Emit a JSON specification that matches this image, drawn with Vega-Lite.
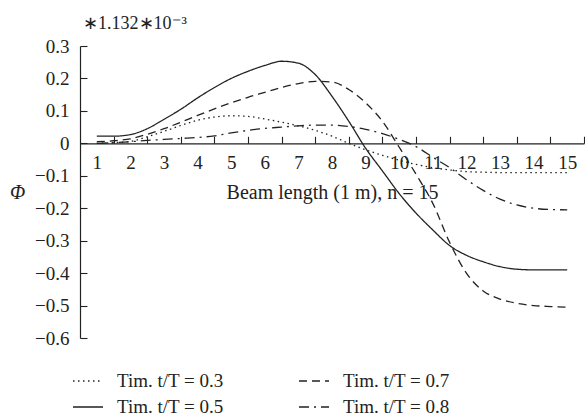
{
  "$schema": "https://vega.github.io/schema/vega-lite/v6.json",
  "width": 504,
  "height": 292,
  "autosize": {"type": "none"},
  "padding": {"left": 80, "top": 46, "right": 1, "bottom": 81},
  "background": "white",
  "config": {
    "view": {"stroke": null},
    "font": "Liberation Serif",
    "axis": {"labelFont": "Liberation Serif", "titleFont": "Liberation Serif", "labelColor": "#222", "titleColor": "#222", "domainColor": "#222", "tickColor": "#222", "domainWidth": 1.2, "tickWidth": 1.1, "grid": false, "labelFontSize": 19, "titleFontSize": 20, "titleFontWeight": "normal"},
    "legend": {"labelFont": "Liberation Serif", "labelFontSize": 19, "labelColor": "#222"}
  },
  "title": {"text": "∗1.132∗10⁻³", "anchor": "start", "frame": "group", "font": "Liberation Serif", "fontSize": 18, "fontWeight": "normal", "color": "#222", "offset": 4, "dx": 3},
  "data": {"values": [
    {"x":1,"phi":0.022,"s":"Tim. t/T = 0.5"},{"x":1.5,"phi":0.022,"s":"Tim. t/T = 0.5"},{"x":2,"phi":0.027,"s":"Tim. t/T = 0.5"},{"x":2.5,"phi":0.045,"s":"Tim. t/T = 0.5"},{"x":3,"phi":0.074,"s":"Tim. t/T = 0.5"},{"x":3.5,"phi":0.105,"s":"Tim. t/T = 0.5"},{"x":4,"phi":0.14,"s":"Tim. t/T = 0.5"},{"x":4.5,"phi":0.172,"s":"Tim. t/T = 0.5"},{"x":5,"phi":0.2,"s":"Tim. t/T = 0.5"},{"x":5.5,"phi":0.222,"s":"Tim. t/T = 0.5"},{"x":6,"phi":0.24,"s":"Tim. t/T = 0.5"},{"x":6.5,"phi":0.253,"s":"Tim. t/T = 0.5"},{"x":7,"phi":0.247,"s":"Tim. t/T = 0.5"},{"x":7.5,"phi":0.212,"s":"Tim. t/T = 0.5"},{"x":8,"phi":0.145,"s":"Tim. t/T = 0.5"},{"x":8.5,"phi":0.068,"s":"Tim. t/T = 0.5"},{"x":9,"phi":-0.015,"s":"Tim. t/T = 0.5"},{"x":9.5,"phi":-0.085,"s":"Tim. t/T = 0.5"},{"x":10,"phi":-0.155,"s":"Tim. t/T = 0.5"},{"x":10.5,"phi":-0.215,"s":"Tim. t/T = 0.5"},{"x":11,"phi":-0.267,"s":"Tim. t/T = 0.5"},{"x":11.5,"phi":-0.315,"s":"Tim. t/T = 0.5"},{"x":12,"phi":-0.345,"s":"Tim. t/T = 0.5"},{"x":12.5,"phi":-0.365,"s":"Tim. t/T = 0.5"},{"x":13,"phi":-0.38,"s":"Tim. t/T = 0.5"},{"x":13.5,"phi":-0.388,"s":"Tim. t/T = 0.5"},{"x":14,"phi":-0.39,"s":"Tim. t/T = 0.5"},{"x":14.5,"phi":-0.39,"s":"Tim. t/T = 0.5"},{"x":15,"phi":-0.39,"s":"Tim. t/T = 0.5"},
    {"x":1,"phi":0.005,"s":"Tim. t/T = 0.7"},{"x":1.5,"phi":0.008,"s":"Tim. t/T = 0.7"},{"x":2,"phi":0.014,"s":"Tim. t/T = 0.7"},{"x":2.5,"phi":0.028,"s":"Tim. t/T = 0.7"},{"x":3,"phi":0.045,"s":"Tim. t/T = 0.7"},{"x":3.5,"phi":0.065,"s":"Tim. t/T = 0.7"},{"x":4,"phi":0.086,"s":"Tim. t/T = 0.7"},{"x":4.5,"phi":0.106,"s":"Tim. t/T = 0.7"},{"x":5,"phi":0.125,"s":"Tim. t/T = 0.7"},{"x":5.5,"phi":0.142,"s":"Tim. t/T = 0.7"},{"x":6,"phi":0.157,"s":"Tim. t/T = 0.7"},{"x":6.5,"phi":0.172,"s":"Tim. t/T = 0.7"},{"x":7,"phi":0.184,"s":"Tim. t/T = 0.7"},{"x":7.5,"phi":0.191,"s":"Tim. t/T = 0.7"},{"x":8,"phi":0.189,"s":"Tim. t/T = 0.7"},{"x":8.5,"phi":0.166,"s":"Tim. t/T = 0.7"},{"x":9,"phi":0.125,"s":"Tim. t/T = 0.7"},{"x":9.5,"phi":0.068,"s":"Tim. t/T = 0.7"},{"x":10,"phi":-0.012,"s":"Tim. t/T = 0.7"},{"x":10.5,"phi":-0.095,"s":"Tim. t/T = 0.7"},{"x":11,"phi":-0.185,"s":"Tim. t/T = 0.7"},{"x":11.5,"phi":-0.305,"s":"Tim. t/T = 0.7"},{"x":12,"phi":-0.4,"s":"Tim. t/T = 0.7"},{"x":12.5,"phi":-0.455,"s":"Tim. t/T = 0.7"},{"x":13,"phi":-0.48,"s":"Tim. t/T = 0.7"},{"x":13.5,"phi":-0.493,"s":"Tim. t/T = 0.7"},{"x":14,"phi":-0.5,"s":"Tim. t/T = 0.7"},{"x":14.5,"phi":-0.503,"s":"Tim. t/T = 0.7"},{"x":15,"phi":-0.505,"s":"Tim. t/T = 0.7"},
    {"x":1,"phi":0.0,"s":"Tim. t/T = 0.3"},{"x":1.5,"phi":0.002,"s":"Tim. t/T = 0.3"},{"x":2,"phi":0.006,"s":"Tim. t/T = 0.3"},{"x":2.5,"phi":0.02,"s":"Tim. t/T = 0.3"},{"x":3,"phi":0.037,"s":"Tim. t/T = 0.3"},{"x":3.5,"phi":0.055,"s":"Tim. t/T = 0.3"},{"x":4,"phi":0.071,"s":"Tim. t/T = 0.3"},{"x":4.5,"phi":0.081,"s":"Tim. t/T = 0.3"},{"x":5,"phi":0.085,"s":"Tim. t/T = 0.3"},{"x":5.5,"phi":0.083,"s":"Tim. t/T = 0.3"},{"x":6,"phi":0.075,"s":"Tim. t/T = 0.3"},{"x":6.5,"phi":0.065,"s":"Tim. t/T = 0.3"},{"x":7,"phi":0.054,"s":"Tim. t/T = 0.3"},{"x":7.5,"phi":0.04,"s":"Tim. t/T = 0.3"},{"x":8,"phi":0.022,"s":"Tim. t/T = 0.3"},{"x":8.5,"phi":0.0,"s":"Tim. t/T = 0.3"},{"x":9,"phi":-0.02,"s":"Tim. t/T = 0.3"},{"x":9.5,"phi":-0.037,"s":"Tim. t/T = 0.3"},{"x":10,"phi":-0.052,"s":"Tim. t/T = 0.3"},{"x":10.5,"phi":-0.065,"s":"Tim. t/T = 0.3"},{"x":11,"phi":-0.075,"s":"Tim. t/T = 0.3"},{"x":11.5,"phi":-0.082,"s":"Tim. t/T = 0.3"},{"x":12,"phi":-0.087,"s":"Tim. t/T = 0.3"},{"x":12.5,"phi":-0.089,"s":"Tim. t/T = 0.3"},{"x":13,"phi":-0.09,"s":"Tim. t/T = 0.3"},{"x":14,"phi":-0.09,"s":"Tim. t/T = 0.3"},{"x":15,"phi":-0.09,"s":"Tim. t/T = 0.3"},
    {"x":1,"phi":0.0,"s":"Tim. t/T = 0.8"},{"x":1.5,"phi":0.002,"s":"Tim. t/T = 0.8"},{"x":2,"phi":0.005,"s":"Tim. t/T = 0.8"},{"x":2.5,"phi":0.009,"s":"Tim. t/T = 0.8"},{"x":3,"phi":0.012,"s":"Tim. t/T = 0.8"},{"x":3.5,"phi":0.015,"s":"Tim. t/T = 0.8"},{"x":4,"phi":0.018,"s":"Tim. t/T = 0.8"},{"x":4.5,"phi":0.023,"s":"Tim. t/T = 0.8"},{"x":5,"phi":0.032,"s":"Tim. t/T = 0.8"},{"x":5.5,"phi":0.04,"s":"Tim. t/T = 0.8"},{"x":6,"phi":0.046,"s":"Tim. t/T = 0.8"},{"x":6.5,"phi":0.05,"s":"Tim. t/T = 0.8"},{"x":7,"phi":0.054,"s":"Tim. t/T = 0.8"},{"x":7.5,"phi":0.056,"s":"Tim. t/T = 0.8"},{"x":8,"phi":0.056,"s":"Tim. t/T = 0.8"},{"x":8.5,"phi":0.052,"s":"Tim. t/T = 0.8"},{"x":9,"phi":0.043,"s":"Tim. t/T = 0.8"},{"x":9.5,"phi":0.03,"s":"Tim. t/T = 0.8"},{"x":10,"phi":0.012,"s":"Tim. t/T = 0.8"},{"x":10.5,"phi":-0.01,"s":"Tim. t/T = 0.8"},{"x":11,"phi":-0.043,"s":"Tim. t/T = 0.8"},{"x":11.5,"phi":-0.075,"s":"Tim. t/T = 0.8"},{"x":12,"phi":-0.112,"s":"Tim. t/T = 0.8"},{"x":12.5,"phi":-0.145,"s":"Tim. t/T = 0.8"},{"x":13,"phi":-0.172,"s":"Tim. t/T = 0.8"},{"x":13.5,"phi":-0.19,"s":"Tim. t/T = 0.8"},{"x":14,"phi":-0.2,"s":"Tim. t/T = 0.8"},{"x":14.5,"phi":-0.204,"s":"Tim. t/T = 0.8"},{"x":15,"phi":-0.205,"s":"Tim. t/T = 0.8"}
  ]},
  "mark": {"type": "line", "interpolate": "monotone", "strokeWidth": 1.3, "color": "#222"},
  "encoding": {
    "x": {"field": "x", "type": "quantitative",
      "scale": {"domain": [0.5, 15.5], "nice": false, "zero": false},
      "axis": {"values": [1,2,3,4,5,6,7,8,9,10,11,12,13,14,15], "offset": -194.67, "tickSize": -7, "tickOffset": 16.8, "labelOffset": -16.8, "labelPadding": 17, "labelFlush": false, "title": "Beam length (1 m), n = 15", "titlePadding": 10}},
    "y": {"field": "phi", "type": "quantitative",
      "scale": {"domain": [-0.6, 0.3], "nice": false, "zero": false},
      "axis": {"values": [-0.6,-0.5,-0.4,-0.3,-0.2,-0.1,0,0.1,0.2,0.3], "format": ".1~f", "tickSize": -7, "labelPadding": 18, "title": "Φ", "titleAngle": 0, "titleFontStyle": "italic", "titleX": -63, "titleY": 146, "titleAlign": "center", "titleBaseline": "middle"}},
    "strokeDash": {"field": "s", "type": "nominal",
      "scale": {"domain": ["Tim. t/T = 0.3", "Tim. t/T = 0.5", "Tim. t/T = 0.7", "Tim. t/T = 0.8"],
        "range": [[1.5, 3.5], [1, 0], [8, 5], [10, 5, 2, 5]]},
      "legend": {"title": null, "orient": "none", "legendX": -8, "legendY": 319, "columns": 2, "columnPadding": 72, "rowPadding": 0, "symbolType": "stroke", "symbolSize": 900, "symbolStrokeWidth": 1.3, "symbolStrokeColor": "#222", "labelOffset": 13}}
  }
}
